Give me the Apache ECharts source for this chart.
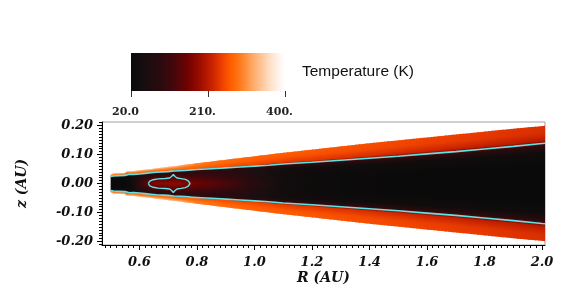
<!DOCTYPE html>
<html><head><meta charset="utf-8">
<script src="https://cdn.jsdelivr.net/npm/echarts@6/dist/echarts.min.js"></script>
<style>html,body{margin:0;padding:0;background:#fff}#c{width:574px;height:296px}</style>
</head><body><div id="c"></div>
<script>
// ---- data ----
const colR   = [0.500,0.510,0.530,0.550,0.556,0.566,0.580,0.600,0.620,0.640,0.660,0.680,0.700,0.720,0.740,0.760,0.780,0.800,0.850,0.900,0.950,1.000,1.050,1.100,1.200,1.300,1.400,1.500,1.600,1.700,1.800,1.900,2.000,2.011];
const edgeZ  = [0.031,0.035,0.036,0.037,0.042,0.042,0.043,0.046,0.048,0.050,0.053,0.055,0.058,0.060,0.062,0.065,0.067,0.070,0.076,0.082,0.088,0.094,0.100,0.106,0.117,0.128,0.139,0.149,0.159,0.169,0.179,0.189,0.198,0.199];
const contZ  = [0.024,0.026,0.027,0.028,0.033,0.032,0.031,0.033,0.035,0.037,0.039,0.040,0.041,0.043,0.044,0.045,0.047,0.048,0.051,0.054,0.057,0.060,0.063,0.067,0.073,0.080,0.087,0.094,0.102,0.110,0.119,0.128,0.138,0.139];
const tMid   = [22,22,22,24,26,30,50,105,140,165,175,178,180,180,178,172,165,158,146,132,112,88,62,44,30,26,24,23,22,22,22,22,22,22];
const tLow   = [22,22,22,24,26,28,42,80,110,125,135,140,142,142,140,135,130,125,115,104,90,72,54,40,30,26,24,23,22,22,22,22,22,22];
const tHigh  = [25,25,28,30,32,35,45,65,80,90,95,98,100,102,102,100,98,95,90,84,75,64,54,46,40,38,37,36,35,35,35,35,35,35];
const tNear  = [60,60,70,70,70,75,80,90,95,100,105,105,108,110,110,110,110,108,105,102,98,95,92,90,90,90,90,88,88,88,88,88,88,88];
const tAbove = [265,265,265,265,265,265,265,265,265,265,265,265,265,265,265,265,264,262,258,254,250,247,243,240,236,232,228,224,220,217,214,211,208,208];
const tUpper = [295,295,295,295,295,295,295,295,295,295,295,295,295,295,290,288,285,282,277,272,268,265,262,260,257,254,251,247,243,240,237,233,230,230];
const tSurf  = [345,345,345,345,345,345,345,345,345,345,345,345,345,340,330,320,310,298,286,280,275,272,269,267,263,259,255,251,247,243,240,236,233,233];
const TC = 150; // contour level (K)
const ellipseR = [0.631,0.636,0.648,0.665,0.690,0.705,0.712,0.718,0.724,0.731,0.745,0.760,0.770,0.776,0.770,0.760,0.745,0.731,0.724,0.718,0.712,0.705,0.690,0.665,0.648,0.636,0.631];
const ellipseZ = [0.000,0.008,0.013,0.016,0.017,0.019,0.024,0.031,0.024,0.019,0.017,0.014,0.009,0.000,-0.009,-0.014,-0.017,-0.019,-0.024,-0.031,-0.024,-0.019,-0.017,-0.016,-0.013,-0.008,0.000];
const xTicks = [0.6,0.8,1.0,1.2,1.4,1.6,1.8,2.0];
const yTicks = [-0.2,-0.1,0,0.1,0.2];
const cbTicks = [20,210,400];
const cbLabels = ['20.0','210.','400.'];

// ---- colour map (style) ----
const cmapT = [20,60,100,130,160,190,220,245,265,285,310,335,360,385,400];
const cmapC = ['#0a0a0a','#1a0e10','#2e0a0e','#4a060a','#700200','#9c0c00','#c82200','#ee4000','#ff5c00','#ff7414','#ff9a4c','#ffbc88','#ffdcc0','#fff4ee','#ffffff'];
function hex2rgb(h){return [parseInt(h.substr(1,2),16),parseInt(h.substr(3,2),16),parseInt(h.substr(5,2),16)];}
const cmapRGB = cmapC.map(hex2rgb);
function tempColor(T){
  if (T <= cmapT[0]) return cmapC[0];
  if (T >= cmapT[cmapT.length-1]) return cmapC[cmapC.length-1];
  let k = 0; while (T > cmapT[k+1]) k++;
  const f = (T - cmapT[k])/(cmapT[k+1]-cmapT[k]);
  const a = cmapRGB[k], b = cmapRGB[k+1];
  return 'rgb(' + a.map((v,j)=>Math.round(v+(b[j]-v)*f)).join(',') + ')';
}

const minorX = []; for (let k = 0; k <= 76; k++) minorX.push(+(0.48 + k*0.02).toFixed(2));
const minorY = []; for (let k = 0; k <= 42; k++) minorY.push(+(-0.21 + k*0.01).toFixed(2));

const FONT = 'DejaVu Serif';
const chart = echarts.init(document.getElementById('c'), null, {renderer:'canvas'});

const SUB = 8; // rendering subdivisions per strip (shading only)
function renderStrip(params, api){
  const i = params.dataIndex, j = i + 1;
  const mix = (a, t) => a[i] + (a[j] - a[i]) * t;
  const children = [];
  for (let s = 0; s < SUB; s++) {
    const t0 = s/SUB, t1 = (s+1)/SUB, tm = (t0+t1)/2;
    const r0 = mix(colR,t0), r1 = mix(colR,t1);
    const e0 = mix(edgeZ,t0), e1 = mix(edgeZ,t1);
    const em = mix(edgeZ,tm), cm = mix(contZ,tm);
    const pTL = api.coord([r0, e0]), pTR = api.coord([r1, e1]);
    const pBR = api.coord([r1, -e1]), pBL = api.coord([r0, -e0]);
    const lv = [[0,mix(tMid,tm)],[0.45*cm,mix(tLow,tm)],[0.75*cm,mix(tHigh,tm)],[0.92*cm,mix(tNear,tm)],[cm,TC],
                [cm+0.15*(em-cm),mix(tAbove,tm)],[cm+0.6*(em-cm),mix(tUpper,tm)],[em,mix(tSurf,tm)]];
    const yTop = api.coord([r0, em])[1], yBot = api.coord([r0, -em])[1];
    const stops = [];
    for (let k = lv.length-1; k >= 0; k--) stops.push({offset:(em-lv[k][0])/(2*em), color:tempColor(lv[k][1])});
    for (let k = 1; k < lv.length; k++) stops.push({offset:(em+lv[k][0])/(2*em), color:tempColor(lv[k][1])});
    const last = (i === colR.length - 2 && s === SUB - 1);
    const ext = last ? 0 : 1.2;
    children.push({type:'polygon', shape:{points:[[pTL[0],pTL[1]],[pTR[0]+ext,pTR[1]],[pBR[0]+ext,pBR[1]],[pBL[0],pBL[1]]]},
            style:{fill:new echarts.graphic.LinearGradient(0,yTop,0,yBot,stops,true), stroke:null, lineWidth:0}});
  }
  return {type:'group', children};
}
function renderBar(params, api){
  const p0 = api.coord([cbTicks[0],1]), p1 = api.coord([cbTicks[2],0]);
  const stops = cmapT.map((t,k)=>({offset:(t-cbTicks[0])/(cbTicks[2]-cbTicks[0]), color:cmapC[k]}));
  return {type:'rect', shape:{x:p0[0], y:p0[1], width:p1[0]-p0[0], height:p1[1]-p0[1]},
          style:{fill:new echarts.graphic.LinearGradient(0,0,1,0,stops), stroke:null, lineWidth:0}};
}

const labelStyle = {fontFamily:FONT, fontWeight:'bold', fontStyle:'italic', fontSize:13, color:'#111'};
const option = {
  animation:false,
  backgroundColor:'#fff',
  title:{text:'Temperature (K)', left:302, top:64, padding:0,
         textStyle:{fontFamily:'Liberation Sans', fontSize:15.5, fontWeight:'normal', color:'#111'}},
  grid:[
    {left:102, top:122, width:443, height:123, show:true, borderColor:'#a0a0a0', borderWidth:1, backgroundColor:'transparent'},
    {left:131, top:53, width:154, height:38}
  ],
  xAxis:[
    {type:'value', gridIndex:0, min:0.47, max:2.0105, position:'bottom',
     name:'R (AU)', nameLocation:'middle', nameGap:26,
     nameTextStyle:{fontFamily:FONT, fontWeight:'bold', fontStyle:'italic', fontSize:14, color:'#111'},
     axisLine:{show:true, onZero:false, lineStyle:{color:'#000', width:1}},
     axisTick:{show:true, customValues:xTicks, length:5, inside:false, lineStyle:{color:'#000'}},
     axisLabel:{customValues:xTicks, margin:11, formatter:v=>v.toFixed(1), ...labelStyle},
     splitLine:{show:false}},
    {type:'value', gridIndex:0, min:0.47, max:2.0105, position:'bottom', z:3,
     axisLine:{show:false, onZero:false}, axisTick:{show:true, customValues:minorX, length:3, lineStyle:{color:'#000'}},
     axisLabel:{show:true, customValues:minorX, formatter:()=>'' }, splitLine:{show:false}},
    {type:'value', gridIndex:1, min:20, max:400, position:'bottom',
     axisLine:{show:false, onZero:false},
     axisTick:{show:true, customValues:cbTicks, length:6, lineStyle:{color:'#333'}},
     axisLabel:{customValues:cbTicks, margin:16, padding:[0,11,0,0],
       formatter:v=>cbLabels[cbTicks.indexOf(v)],
       fontFamily:FONT, fontWeight:'bold', fontSize:11, color:'#222'},
     splitLine:{show:false}}
  ],
  yAxis:[
    {type:'value', gridIndex:0, min:-0.212, max:0.212, position:'left',
     name:'z (AU)', nameLocation:'middle', nameGap:73, nameRotate:90,
     nameTextStyle:{fontFamily:FONT, fontWeight:'bold', fontStyle:'italic', fontSize:14, color:'#111'},
     axisLine:{show:true, onZero:false, lineStyle:{color:'#000', width:1}},
     axisTick:{show:true, customValues:yTicks, length:5, lineStyle:{color:'#000'}},
     axisLabel:{customValues:yTicks, margin:9, formatter:v=>v.toFixed(2), ...labelStyle},
     splitLine:{show:false}},
    {type:'value', gridIndex:0, min:-0.212, max:0.212, position:'left', z:3,
     axisLine:{show:false, onZero:false}, axisTick:{show:true, customValues:minorY, length:3, lineStyle:{color:'#000'}},
     axisLabel:{show:true, customValues:minorY, formatter:()=>''}, splitLine:{show:false}},
    {type:'value', gridIndex:1, min:0, max:1, show:false}
  ],
  series:[
    {type:'custom', xAxisIndex:0, yAxisIndex:0, renderItem:renderStrip, clip:true, z:2,
     data:colR.slice(0,-1).map((r,i)=>[r, colR[i+1], edgeZ[i]]), encode:{x:[0,1], y:2}, silent:true},
    {type:'line', xAxisIndex:0, yAxisIndex:0, data:colR.map((r,i)=>[r, contZ[i]]), showSymbol:false, z:5,
     lineStyle:{color:'#62e2e2', width:1.6}, silent:true},
    {type:'line', xAxisIndex:0, yAxisIndex:0, data:colR.map((r,i)=>[r, -contZ[i]]), showSymbol:false, z:5,
     lineStyle:{color:'#62e2e2', width:1.6}, silent:true},
    {type:'line', xAxisIndex:0, yAxisIndex:0, data:ellipseR.map((r,i)=>[r, ellipseZ[i]]), showSymbol:false, z:5,
     lineStyle:{color:'#62e2e2', width:1.4}, silent:true},
    {type:'custom', xAxisIndex:2, yAxisIndex:2, renderItem:renderBar, data:[[cbTicks[0],0,cbTicks[2],1]],
     encode:{x:[0,2], y:[1,3]}, silent:true}
  ]
};
chart.setOption(option);
</script></body></html>
